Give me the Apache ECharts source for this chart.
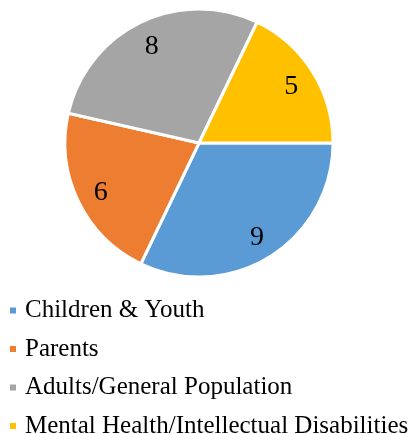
<!DOCTYPE html>
<html lang="en">
  <head>
    <meta charset="utf-8">
    <title>pie</title>
    <script src="https://cdn.jsdelivr.net/npm/echarts@6/dist/echarts.min.js"></script>
    <style>
      html, body { margin:0; padding:0; background:#fff; }
      #chart { width:419px; height:434px; }
    </style>
  </head>
  <body>
    <div id="chart"></div>
    <script type="text/javascript">
      // data
      var categories = ['Children & Youth', 'Parents', 'Adults/General Population', 'Mental Health/Intellectual Disabilities'];
      var values = [9, 6, 8, 5];
      var colors = ['#5B9BD5', '#ED7D31', '#A5A5A5', '#FFC000'];

      var FONT = 'Liberation Serif';

      var pieData = [];
      var labelData = [];
      for (var i = 0; i < categories.length; i++) {
        pieData.push({ name: categories[i], value: values[i], itemStyle: { color: colors[i] } });
        labelData.push({ name: categories[i], value: values[i] });
      }

      var myChart = echarts.init(document.getElementById('chart'));
      var option = {
        animation: false,
        legend: {
          orient: 'vertical',
          left: 8,
          top: 298,
          width: 411,
          height: 160,
          padding: 0,
          icon: 'rect',
          itemWidth: 8,
          itemHeight: 8,
          itemGap: 13.5,
          data: categories,
          textStyle: { fontFamily: FONT, fontSize: 25, color: '#000', lineHeight: 24, padding: [0, 0, 0, 3] }
        },
        series: [
          {
            type: 'pie',
            center: [199, 143],
            radius: [0, 134],
            startAngle: 0,
            clockwise: true,
            data: pieData,
            itemStyle: { borderColor: '#fff', borderWidth: 3 },
            label: { show: false },
            labelLine: { show: false },
            emphasis: { disabled: true }
          },
          {
            // transparent ring just to place the value labels toward the rim
            type: 'pie',
            center: [199, 145],
            radius: [78, 134],
            startAngle: 0,
            clockwise: true,
            silent: true,
            data: labelData,
            itemStyle: { color: 'rgba(0,0,0,0)' },
            label: {
              show: true,
              position: 'inside',
              formatter: '{c}',
              fontFamily: FONT,
              fontSize: 28,
              color: '#000'
            },
            labelLine: { show: false },
            emphasis: { disabled: true }
          }
        ]
      };
      option && myChart.setOption(option);
    </script>
  </body>
</html>
